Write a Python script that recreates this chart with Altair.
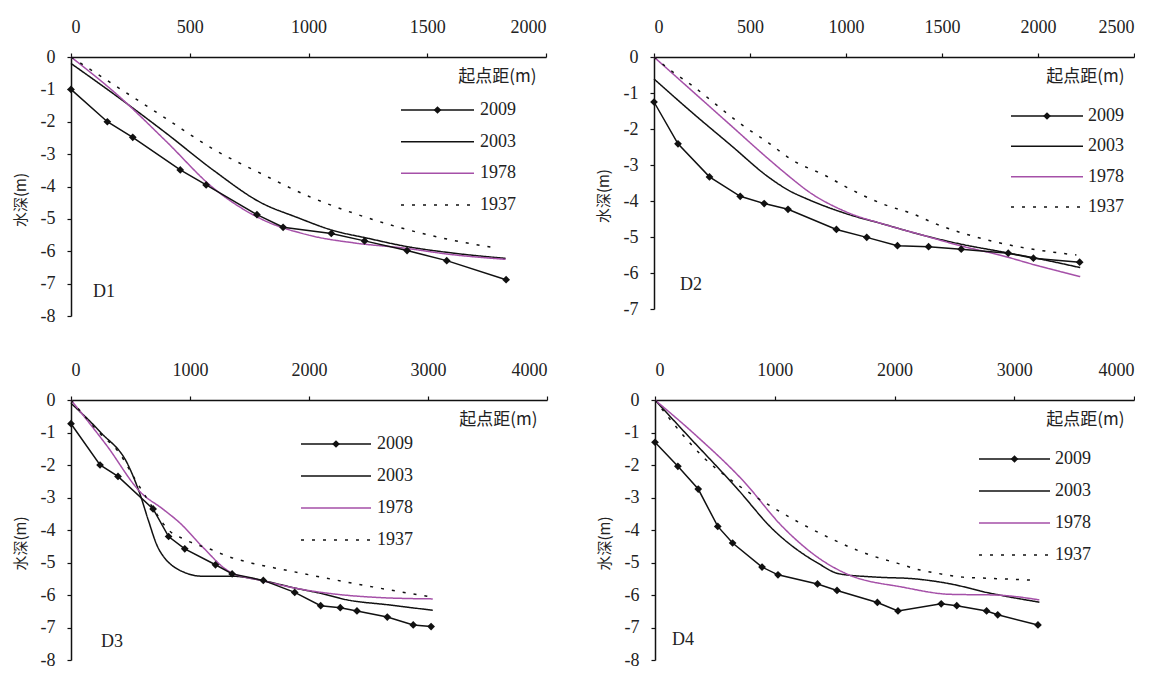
import altair as alt
import pandas as pd

YEARS = ["2009", "2003", "1978", "1937"]
COLORS = ["#111111", "#111111", "#A550A8", "#111111"]
DASHES = [[1, 0], [1, 0], [1, 0], [3, 8]]

# ---------------- D1 ----------------
d1_x_2009 = [0, 153, 260, 460, 569, 783, 893, 1096, 1236, 1415, 1582, 1832]
d1_y_2009 = [-1.0, -2.0, -2.48, -3.49, -3.95, -4.87, -5.26, -5.45, -5.68, -5.98, -6.29, -6.88]
d1_x_2003 = [0, 200, 400, 600, 800, 950, 1100, 1250, 1410, 1600, 1830]
d1_y_2003 = [-0.2, -1.25, -2.35, -3.5, -4.5, -4.95, -5.35, -5.6, -5.85, -6.05, -6.22]
d1_x_1978 = [0, 200, 400, 600, 800, 1000, 1200, 1400, 1600, 1830]
d1_y_1978 = [0, -1.2, -2.6, -4.05, -5.0, -5.5, -5.75, -5.9, -6.1, -6.25]
d1_x_1937 = [0, 200, 400, 600, 800, 1000, 1200, 1400, 1600, 1790]
d1_y_1937 = [0, -0.95, -1.9, -2.85, -3.6, -4.3, -4.85, -5.3, -5.65, -5.9]

# ---------------- D2 ----------------
d2_x_2009 = [0, 125, 289, 449, 574, 698, 950, 1108, 1268, 1430, 1600, 1845, 1976, 2217]
d2_y_2009 = [-1.25, -2.41, -3.33, -3.87, -4.07, -4.23, -4.79, -5.01, -5.24, -5.27, -5.34, -5.45, -5.59, -5.70]
d2_x_2003 = [0, 200, 400, 600, 700, 800, 1000, 1200, 1400, 1600, 1800, 2000, 2220]
d2_y_2003 = [-0.61, -1.55, -2.45, -3.35, -3.7, -3.95, -4.35, -4.65, -4.95, -5.2, -5.4, -5.6, -5.85]
d2_x_1978 = [0, 200, 400, 600, 700, 800, 1000, 1200, 1400, 1600, 1800, 2000, 2220]
d2_y_1978 = [0, -0.95, -1.9, -2.85, -3.3, -3.72, -4.3, -4.65, -4.95, -5.25, -5.5, -5.8, -6.1]
d2_x_1937 = [0, 67, 200, 462, 598, 713, 906, 983, 1195, 1349, 1465, 1735, 2120, 2200]
d2_y_1937 = [0, -0.29, -0.8, -1.9, -2.39, -2.84, -3.33, -3.56, -4.09, -4.36, -4.63, -5.08, -5.45, -5.5]

# ---------------- D3 ----------------
d3_x_2009 = [0, 244, 395, 690, 820, 956, 1214, 1354, 1616, 1880, 2098, 2263, 2403, 2658, 2876, 3026]
d3_y_2009 = [-0.73, -2.0, -2.35, -3.35, -4.2, -4.58, -5.07, -5.35, -5.55, -5.92, -6.33, -6.39, -6.49, -6.68, -6.92, -6.97]
d3_x_2003 = [0, 250, 480, 580, 650, 720, 800, 860, 950, 1090, 1350, 1600, 1900, 2100, 2320, 2660, 3040]
d3_y_2003 = [-0.1, -1.0, -2.0, -2.9, -3.7, -4.45, -4.92, -5.12, -5.3, -5.42, -5.42, -5.55, -5.8, -5.95, -6.15, -6.3, -6.47]
d3_x_1978 = [0, 300, 590, 770, 920, 1100, 1340, 1600, 1900, 2240, 2600, 3040]
d3_y_1978 = [0, -1.4, -2.86, -3.35, -3.8, -4.5, -5.3, -5.55, -5.8, -5.98, -6.08, -6.12]
d3_x_1937 = [0, 250, 400, 540, 650, 820, 960, 1190, 1310, 1520, 1800, 2100, 2535, 3010]
d3_y_1937 = [0, -1.05, -1.6, -2.45, -3.1, -4.0, -4.3, -4.62, -4.8, -5.02, -5.23, -5.45, -5.75, -6.05]

# ---------------- D4 ----------------
d4_x_2009 = [0, 191, 361, 524, 648, 894, 1027, 1357, 1520, 1857, 2029, 2390, 2520, 2769, 2862, 3198]
d4_y_2009 = [-1.3, -2.04, -2.74, -3.89, -4.4, -5.14, -5.38, -5.66, -5.86, -6.23, -6.49, -6.27, -6.33, -6.49, -6.61, -6.92]
d4_x_2003 = [0, 250, 680, 990, 1360, 1540, 1850, 2160, 2470, 2780, 3210]
d4_y_2003 = [0, -1.0, -2.7, -4.0, -5.02, -5.35, -5.45, -5.5, -5.66, -5.93, -6.22]
d4_x_1978 = [0, 330, 740, 1065, 1390, 1600, 2070, 2470, 2840, 3210]
d4_y_1978 = [0, -1.05, -2.5, -3.9, -4.92, -5.35, -5.76, -5.98, -6.0, -6.15]
d4_x_1937 = [0, 225, 409, 601, 777, 977, 1194, 1461, 1687, 1795, 2021, 2213, 2355, 2572, 2739, 2939, 3131]
d4_y_1937 = [0, -1.04, -1.78, -2.37, -2.83, -3.29, -3.75, -4.25, -4.62, -4.77, -5.02, -5.23, -5.33, -5.45, -5.48, -5.51, -5.54]

PANELS = [
    ("D1", {"2009": (d1_x_2009, d1_y_2009), "2003": (d1_x_2003, d1_y_2003),
            "1978": (d1_x_1978, d1_y_1978), "1937": (d1_x_1937, d1_y_1937)}),
    ("D2", {"2009": (d2_x_2009, d2_y_2009), "2003": (d2_x_2003, d2_y_2003),
            "1978": (d2_x_1978, d2_y_1978), "1937": (d2_x_1937, d2_y_1937)}),
    ("D3", {"2009": (d3_x_2009, d3_y_2009), "2003": (d3_x_2003, d3_y_2003),
            "1978": (d3_x_1978, d3_y_1978), "1937": (d3_x_1937, d3_y_1937)}),
    ("D4", {"2009": (d4_x_2009, d4_y_2009), "2003": (d4_x_2003, d4_y_2003),
            "1978": (d4_x_1978, d4_y_1978), "1937": (d4_x_1937, d4_y_1937)}),
]

X_MAX = {"D1": 2000, "D2": 2500, "D3": 4000, "D4": 4000}
X_STEP = {"D1": 500, "D2": 500, "D3": 1000, "D4": 1000}
Y_MIN = {"D1": -8, "D2": -7, "D3": -8, "D4": -8}

# layout (pixels): width, height, legend (line x0, x1, text x, first row y, last row y), label (x, y)
LAYOUT = {
    "D1": dict(w=475, h=259, leg=(330, 403, 409, 53, 148), lab=(22, 235)),
    "D2": dict(w=480, h=252, leg=(357, 429, 434, 59, 150), lab=(26, 228)),
    "D3": dict(w=476, h=260, leg=(230, 300, 306, 44, 140), lab=(30, 242)),
    "D4": dict(w=479, h=260, leg=(324, 395, 400, 59, 155), lab=(17, 240)),
}

SERIF = "Liberation Serif"
CJK = "Noto Sans CJK SC"

color_scale = alt.Scale(domain=YEARS, range=COLORS)
dash_scale = alt.Scale(domain=YEARS, range=DASHES)


def make_panel(name, series):
    lay = LAYOUT[name]
    w, h = lay["w"], lay["h"]
    rows = []
    for yr in YEARS:
        xs, ys = series[yr]
        for i, (a, b) in enumerate(zip(xs, ys)):
            rows.append({"x": a, "depth": b, "year": yr, "i": i})
    df = pd.DataFrame(rows)

    xmax, xstep, ymin = X_MAX[name], X_STEP[name], Y_MIN[name]
    X = alt.X("x:Q", scale=alt.Scale(domain=[0, xmax], nice=False),
              axis=alt.Axis(orient="top", values=list(range(0, xmax + 1, xstep)), format="d",
                            title="起点距(m)", titleX=w - 10, titleY=19, titleAlign="right",
                            titleBaseline="middle", titleFont=CJK, titleFontSize=17,
                            titleFontWeight="normal", titleColor="#222",
                            tickSize=4, labelPadding=17, grid=False))
    Y = alt.Y("depth:Q", scale=alt.Scale(domain=[ymin, 0], nice=False),
              axis=alt.Axis(values=list(range(ymin, 1)), labelExpr="'' + datum.value",
                            title="水深(m)", titleFont=CJK, titleFontSize=15,
                            titleFontWeight="normal", titleColor="#222", titlePadding=12,
                            titleY=0.55 * h, tickSize=4, labelPadding=12, grid=False))

    base = alt.Chart(df)
    others = base.transform_filter("datum.year != '2009'").mark_line(
        strokeWidth=1.5, interpolate="monotone").encode(
        x=X, y=Y, order="i:Q",
        color=alt.Color("year:N", scale=color_scale, legend=None),
        strokeDash=alt.StrokeDash("year:N", scale=dash_scale, legend=None))
    l2009 = base.transform_filter("datum.year == '2009'").mark_line(
        strokeWidth=1.5, color="#111111").encode(x=X, y=Y, order="i:Q")
    pts = base.transform_filter("datum.year == '2009'").mark_point(
        shape="diamond", filled=True, size=60, color="#111111", opacity=1).encode(x=X, y=Y)

    x0, x1, xt, r0, r3 = lay["leg"]
    ldf = pd.DataFrame({"year": YEARS})
    LY = alt.Y("year:N", scale=alt.Scale(type="point", domain=YEARS, range=[r0, r3], padding=0),
               axis=None)
    lbase = alt.Chart(ldf)
    leg_rule = lbase.mark_rule(strokeWidth=1.5).encode(
        x=alt.value(x0), x2=alt.value(x1), y=LY,
        color=alt.Color("year:N", scale=color_scale, legend=None),
        strokeDash=alt.StrokeDash("year:N", scale=dash_scale, legend=None))
    leg_pt = lbase.transform_filter("datum.year == '2009'").mark_point(
        shape="diamond", filled=True, size=60, color="#111111", opacity=1).encode(
        x=alt.value((x0 + x1) / 2), y=LY)
    leg_txt = lbase.mark_text(align="left", baseline="middle", font=SERIF,
                              fontSize=18, color="#222").encode(
        x=alt.value(xt), y=LY, text="year:N")
    lx, ly = lay["lab"]
    lab = alt.Chart(pd.DataFrame({"t": [name]})).mark_text(
        align="left", baseline="middle", font=SERIF, fontSize=18, color="#222").encode(
        x=alt.value(lx), y=alt.value(ly), text="t:N")

    data_layer = alt.layer(others, l2009, pts)
    legend_layer = alt.layer(leg_rule, leg_pt, leg_txt, lab)
    return alt.layer(data_layer, legend_layer).resolve_scale(y="independent").properties(
        width=w, height=h)


p = [make_panel(n, s) for n, s in PANELS]

chart = alt.vconcat(
    alt.hconcat(p[0], p[1], spacing=49),
    alt.hconcat(p[2], p[3], spacing=49),
    spacing=36,
).properties(
    padding={"left": 5, "top": 10, "right": 0, "bottom": 5},
    background="white",
).configure_view(stroke=None).configure_axis(
    labelFont=SERIF, labelFontSize=18, labelColor="#222",
    domainColor="#111", domainWidth=1.5, tickColor="#111", tickWidth=1.2,
)

chart.save("out.html", embed_options={"renderer": "svg", "actions": False})
